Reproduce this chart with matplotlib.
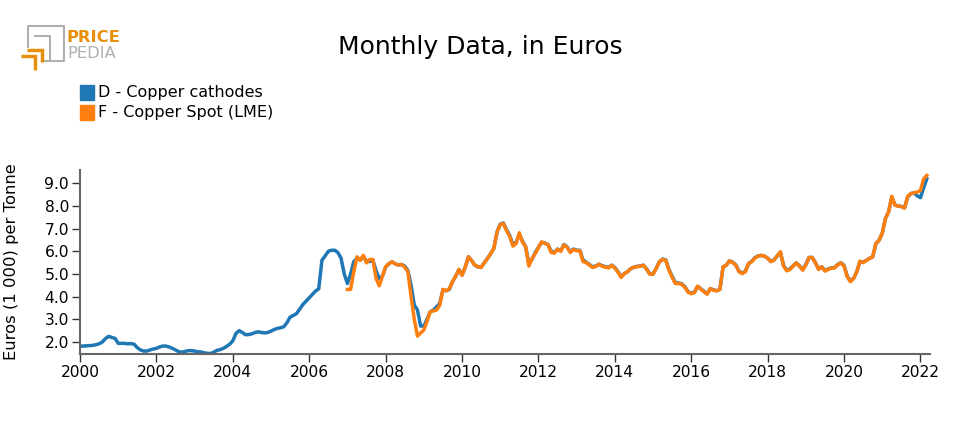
import numpy as np
import pandas as pd
import matplotlib
matplotlib.use("Agg")
import matplotlib.pyplot as plt
from matplotlib.lines import Line2D
from matplotlib.patches import Rectangle

# monthly values, Euros (1 000) per tonne
cathodes_by_year = {
    2000: [1.82, 1.82, 1.83, 1.84, 1.85, 1.88, 1.92, 2.00, 2.15, 2.25, 2.20, 2.16],
    2001: [1.94, 1.94, 1.94, 1.92, 1.93, 1.90, 1.75, 1.65, 1.60, 1.60, 1.65, 1.69],
    2002: [1.72, 1.78, 1.82, 1.82, 1.78, 1.72, 1.65, 1.57, 1.55, 1.58, 1.62, 1.62],
    2003: [1.60, 1.57, 1.56, 1.52, 1.50, 1.49, 1.55, 1.63, 1.66, 1.72, 1.80, 1.90],
    2004: [2.05, 2.38, 2.50, 2.42, 2.32, 2.33, 2.36, 2.42, 2.45, 2.42, 2.40, 2.42],
    2005: [2.48, 2.55, 2.60, 2.63, 2.67, 2.85, 3.10, 3.17, 3.25, 3.45, 3.65, 3.80],
    2006: [3.95, 4.10, 4.25, 4.35, 5.61, 5.80, 6.00, 6.05, 6.05, 5.95, 5.70, 5.00],
    2007: [4.58, 5.00, 5.55, 5.69, 5.62, 5.75, 5.58, 5.55, 5.60, 5.15, 4.80, 4.90],
    2008: [5.30, 5.45, 5.54, 5.45, 5.40, 5.42, 5.35, 5.15, 4.50, 3.63, 3.41, 2.70],
    2009: [2.70, 3.00, 3.33, 3.41, 3.55, 3.70, 4.30, 4.26, 4.32, 4.66, 4.90, 5.20],
    2010: [4.95, 5.30, 5.76, 5.60, 5.39, 5.32, 5.29, 5.50, 5.69, 5.90, 6.13, 6.86],
    2011: [7.20, 7.25, 6.95, 6.70, 6.30, 6.40, 6.75, 6.45, 6.20, 5.45, 5.65, 5.95],
    2012: [6.17, 6.40, 6.37, 6.30, 6.00, 5.95, 6.10, 6.02, 6.30, 6.20, 5.98, 6.10],
    2013: [6.05, 6.05, 5.62, 5.52, 5.42, 5.32, 5.35, 5.43, 5.37, 5.32, 5.29, 5.39],
    2014: [5.28, 5.10, 4.88, 5.02, 5.10, 5.24, 5.30, 5.34, 5.35, 5.39, 5.22, 5.00],
    2015: [5.00, 5.25, 5.54, 5.66, 5.62, 5.20, 4.90, 4.62, 4.60, 4.57, 4.44, 4.22],
    2016: [4.15, 4.20, 4.45, 4.35, 4.24, 4.13, 4.36, 4.30, 4.26, 4.32, 5.30, 5.39],
    2017: [5.58, 5.52, 5.40, 5.12, 5.04, 5.12, 5.46, 5.56, 5.72, 5.80, 5.82, 5.79],
    2018: [5.70, 5.56, 5.62, 5.80, 5.96, 5.38, 5.17, 5.22, 5.36, 5.49, 5.36, 5.19],
    2019: [5.42, 5.73, 5.73, 5.50, 5.22, 5.32, 5.15, 5.22, 5.27, 5.28, 5.42, 5.50],
    2020: [5.38, 4.90, 4.70, 4.80, 5.10, 5.55, 5.52, 5.60, 5.69, 5.76, 6.33, 6.49],
    2021: [6.80, 7.45, 7.74, 8.40, 8.05, 8.00, 7.98, 7.92, 8.40, 8.55, 8.58, 8.45],
    2022: [8.37, 8.80, 9.20],
}

spot_by_year = {
    2007: [4.32, 4.32, 5.10, 5.76, 5.60, 5.83, 5.49, 5.64, 5.64, 4.80, 4.48, 4.90],
    2008: [5.32, 5.45, 5.54, 5.45, 5.39, 5.42, 5.30, 5.10, 4.00, 3.00, 2.26, 2.40],
    2009: [2.53, 2.90, 3.33, 3.37, 3.41, 3.62, 4.32, 4.26, 4.35, 4.66, 4.90, 5.20],
    2010: [4.95, 5.30, 5.76, 5.60, 5.39, 5.32, 5.29, 5.50, 5.69, 5.90, 6.13, 6.86],
    2011: [7.18, 7.23, 6.90, 6.65, 6.23, 6.35, 6.82, 6.40, 6.20, 5.35, 5.69, 5.90],
    2012: [6.17, 6.42, 6.35, 6.30, 5.95, 5.92, 6.10, 6.00, 6.28, 6.18, 5.95, 6.08],
    2013: [6.03, 6.03, 5.55, 5.50, 5.40, 5.29, 5.33, 5.43, 5.35, 5.30, 5.27, 5.38],
    2014: [5.26, 5.08, 4.85, 5.02, 5.10, 5.24, 5.30, 5.32, 5.35, 5.39, 5.20, 4.99],
    2015: [4.99, 5.25, 5.54, 5.64, 5.60, 5.17, 4.85, 4.58, 4.58, 4.55, 4.41, 4.20],
    2016: [4.13, 4.18, 4.47, 4.33, 4.22, 4.11, 4.36, 4.28, 4.26, 4.32, 5.32, 5.39],
    2017: [5.58, 5.50, 5.39, 5.10, 5.02, 5.10, 5.46, 5.54, 5.70, 5.79, 5.82, 5.79],
    2018: [5.70, 5.54, 5.62, 5.80, 5.98, 5.35, 5.14, 5.20, 5.35, 5.49, 5.35, 5.17],
    2019: [5.40, 5.73, 5.73, 5.50, 5.20, 5.32, 5.13, 5.20, 5.26, 5.27, 5.40, 5.49],
    2020: [5.35, 4.88, 4.66, 4.80, 5.10, 5.57, 5.50, 5.60, 5.69, 5.76, 6.35, 6.49],
    2021: [6.80, 7.45, 7.74, 8.43, 8.03, 8.00, 7.98, 7.91, 8.43, 8.55, 8.58, 8.62],
    2022: [8.69, 9.20, 9.35],
}

series_labels = ["D - Copper cathodes", "F - Copper Spot (LME)"]
series_colors = ["#1f77b4", "#ff7f0e"]
x_ticks = list(range(2000, 2023, 2))
y_ticks = [2.0, 3.0, 4.0, 5.0, 6.0, 7.0, 8.0, 9.0]


def to_series(by_year):
    vals = [v for y in sorted(by_year) for v in by_year[y]]
    start = "%d-01-01" % min(by_year)
    dates = pd.date_range(start, periods=len(vals), freq="MS")
    t = dates.year + (dates.month - 1) / 12.0
    return np.asarray(t), np.asarray(vals)


def fx(x):
    return x / 960


def fy(y):
    return 1 - y / 430


fig = plt.figure(figsize=(9.6, 4.3), dpi=100)
ax = fig.add_axes([fx(80), 76 / 430, 850 / 960, 184 / 430])

for by_year, color in zip([cathodes_by_year, spot_by_year], series_colors):
    t, v = to_series(by_year)
    ax.plot(t, v, color=color, lw=2.5)

ax.set_xlim(2000, 2022.25)
ax.set_ylim(1.47, 9.59)
ax.set_xticks(x_ticks)
ax.set_xticklabels([str(x) for x in x_ticks])
ax.set_yticks(y_ticks)
ax.set_yticklabels(["%.1f" % y for y in y_ticks])
ax.tick_params(labelsize=11.2, length=6, width=1, color="#333333", pad=2)
for side in ["top", "right"]:
    ax.spines[side].set_visible(False)
for side in ["left", "bottom"]:
    ax.spines[side].set_color("#666666")
    ax.spines[side].set_linewidth(1.5)
ax.set_ylabel("Euros (1 000) per Tonne", fontsize=11.8, labelpad=18)

fig.text(fx(480), fy(47), "Monthly Data, in Euros", ha="center", va="center", fontsize=18)

# legend, drawn by hand
for i, (lab, col) in enumerate(zip(series_labels, series_colors)):
    y0 = 85 + 20 * i
    fig.patches.append(Rectangle((fx(80), fy(y0 + 15)), 14 / 960, 15 / 430,
                                 transform=fig.transFigure, color=col))
    fig.text(fx(98), fy(y0 + 8), lab, fontsize=11.5, va="center", ha="left")

# logo
gray = "#b0b0b0"
orange = "#e8900c"
fig.add_artist(Line2D([fx(28), fx(28), fx(64), fx(64), fx(44)],
                      [fy(47), fy(26), fy(26), fy(61), fy(61)], color=gray, lw=1.5))
fig.add_artist(Line2D([fx(35), fx(50), fx(50)], [fy(36), fy(36), fy(60)], color=gray, lw=1.5))
fig.add_artist(Line2D([fx(27), fx(41.7), fx(41.7)], [fy(49.5), fy(49.5), fy(62)], color=orange,
                      lw=2.5, solid_joinstyle="miter", solid_capstyle="butt"))
fig.add_artist(Line2D([fx(21), fx(35.3), fx(35.3)], [fy(56), fy(56), fy(70)], color=orange,
                      lw=2.5, solid_joinstyle="miter", solid_capstyle="butt"))
fig.text(fx(67), fy(42), "PRICE", color=orange, fontsize=11.8, fontweight="bold", va="baseline")
fig.text(fx(67), fy(58.5), "PEDIA", color=gray, fontsize=11.8, va="baseline")

fig.savefig("out.png", dpi=100)
